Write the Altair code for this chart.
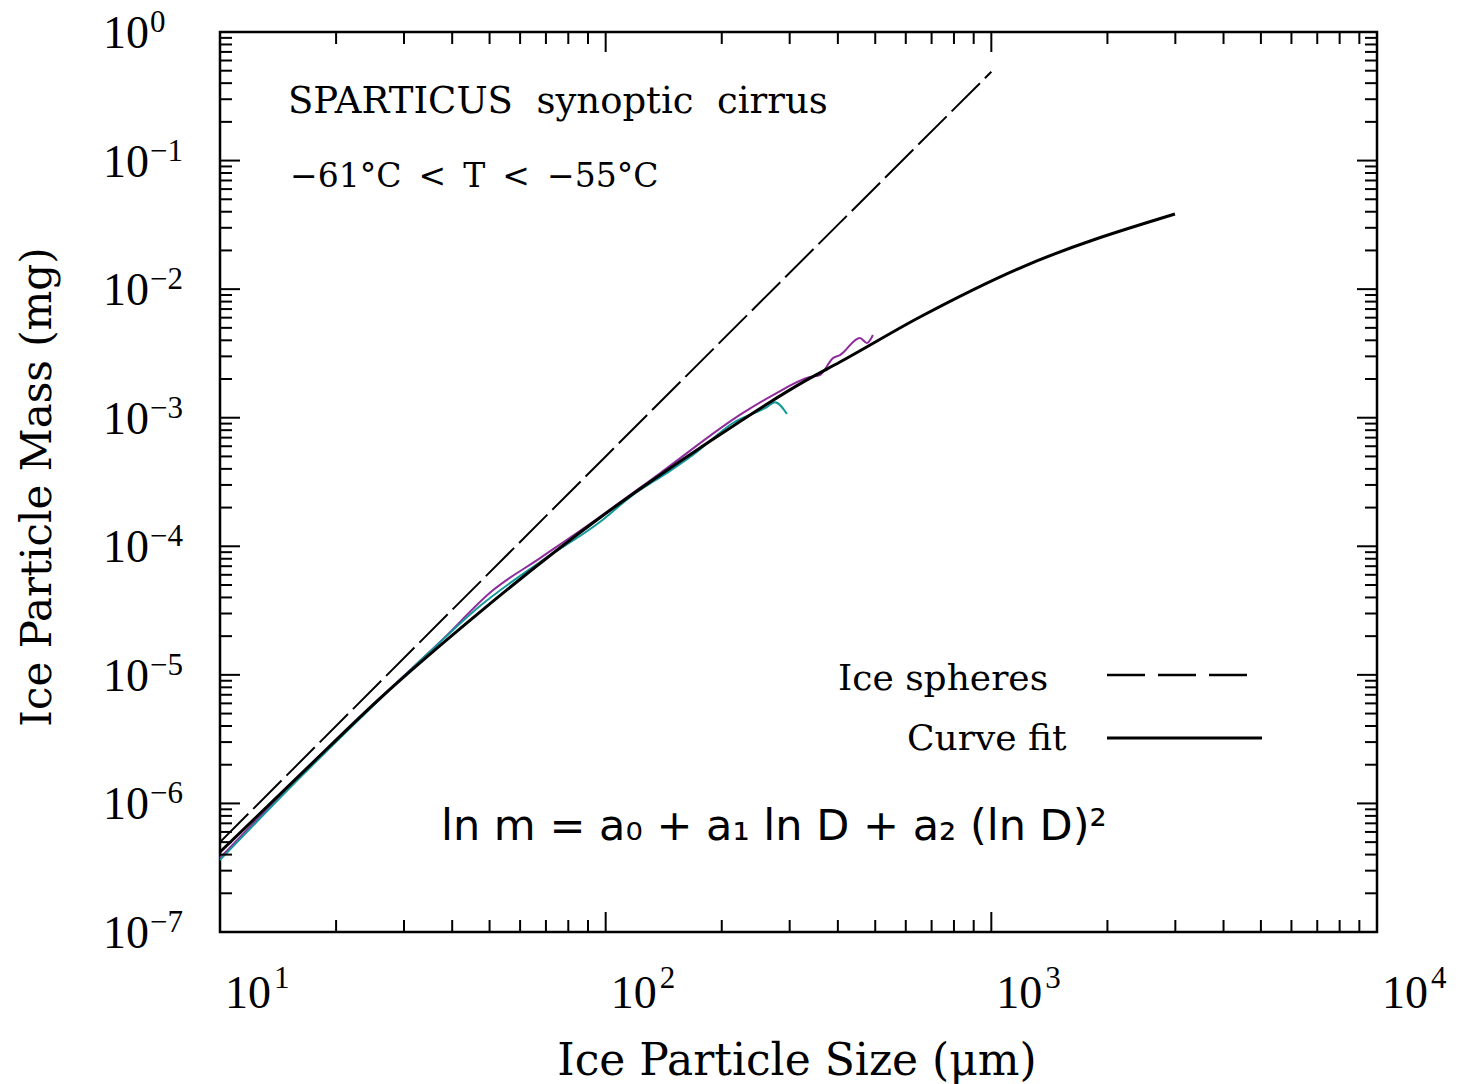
import altair as alt
import pandas as pd

# ---- data ----
fit_D = [10.0, 16.1, 25.7, 47.2, 94.8, 175.6, 332.6, 405.1, 653.0, 1186.0, 2993.0]
fit_m = [4.19e-7, 1.66e-6, 6.37e-6, 3.08e-5, 1.60e-4, 5.81e-4, 1.97e-3, 2.71e-3, 6.07e-3, 1.46e-2, 3.84e-2]

sphere_D = [10.0, 100.0, 1000.0]
sphere_m = [5.0e-7, 5.0e-4, 0.49]

teal_D = [10.0, 16.1, 25.7, 35.0, 47.2, 67.6, 96.6, 117.7, 144.2, 168.4, 213.8, 261.9, 274.8, 295.1]
teal_m = [3.63e-7, 1.58e-6, 6.26e-6, 1.51e-5, 3.43e-5, 7.55e-5, 1.545e-4, 2.51e-4, 3.72e-4,
          5.13e-4, 9.10e-4, 1.21e-3, 1.32e-3, 1.07e-3]

purple_D = [10.0, 16.1, 25.7, 37.2, 51.0, 67.6, 94.9, 138.3, 227.0, 271.5, 338.6, 359.4, 388.5,
            405.1, 456.3, 475.9, 493.2]
purple_m = [3.77e-7, 1.63e-6, 6.40e-6, 1.80e-5, 4.55e-5, 8.10e-5, 1.63e-4, 3.70e-4, 1.09e-3,
            1.50e-3, 2.07e-3, 2.15e-3, 2.91e-3, 3.07e-3, 4.17e-3, 3.81e-3, 4.40e-3]

x_major = [10, 100, 1000, 10000]
x_exp = ["1", "2", "3", "4"]
x_minor = [k * 10 ** e for e in range(1, 4) for k in range(2, 10)]
y_major = [1e-7, 1e-6, 1e-5, 1e-4, 1e-3, 1e-2, 1e-1, 1.0]
y_exp = ["\u22127", "\u22126", "\u22125", "\u22124", "\u22123", "\u22122", "\u22121", "0"]
y_minor = [k * 10.0 ** e for e in range(-7, 0) for k in range(2, 10)]

NB = "\u00a0"
GAP = NB + "\u2009"
title_text = ["SPARTICUS" + NB * 2 + "synoptic" + NB * 2 + "cirrus"]
temp_text = ["\u221261\u00b0C" + GAP + "<" + GAP + "T" + GAP + "<" + GAP + "\u221255\u00b0C"]
legend_labels = ["Ice" + NB + "spheres", "Curve" + NB + "fit"]
equation_text = ["ln m = a\u2080 + a\u2081 ln D + a\u2082 (ln D)\u00b2"]
x_title = ["Ice Particle Size (\u03bcm)"]
y_title = ["Ice Particle Mass (mg)"]

# ---- layout ----
W, H = 1157, 900
xs = alt.Scale(type="log", domain=[10, 10000], nice=False)
ys = alt.Scale(type="log", domain=[1e-7, 1], nice=False)
SERIF = "DejaVu Serif"
NUM = "Liberation Serif"


def line_layer(D, m, color, width, dash=None):
    df = pd.DataFrame({"D": D, "m": m})
    kw = dict(color=color, strokeWidth=width, interpolate="monotone")
    if dash:
        kw["strokeDash"] = dash
    return alt.Chart(df).mark_line(**kw).encode(
        x=alt.X("D:Q", scale=xs, axis=None),
        y=alt.Y("m:Q", scale=ys, axis=None),
    )


def x_ticks(vals, length):
    base = alt.Chart(pd.DataFrame({"v": vals}))
    enc = dict(x=alt.X("v:Q", scale=xs, axis=None))
    bottom = base.mark_rule(color="black", strokeWidth=2).encode(
        y=alt.value(H), y2=alt.value(H - length), **enc)
    top = base.mark_rule(color="black", strokeWidth=2).encode(
        y=alt.value(0), y2=alt.value(length), **enc)
    return [bottom, top]


def y_ticks(vals, length):
    base = alt.Chart(pd.DataFrame({"v": vals}))
    enc = dict(y=alt.Y("v:Q", scale=ys, axis=None))
    left = base.mark_rule(color="black", strokeWidth=2).encode(
        x=alt.value(0), x2=alt.value(length), **enc)
    right = base.mark_rule(color="black", strokeWidth=2).encode(
        x=alt.value(W), x2=alt.value(W - length), **enc)
    return [left, right]


def text_layer(txt, x, y, size, font=SERIF, align="left", baseline="alphabetic", angle=0):
    kw = dict(font=font, fontSize=size, align=align, baseline=baseline, color="black")
    if angle:
        kw["angle"] = angle
    return alt.Chart(pd.DataFrame({"t": txt})).mark_text(**kw).encode(
        x=alt.value(x), y=alt.value(y), text="t:N")


layers = []
layers.append(line_layer(purple_D, purple_m, "#8e2c9c", 2))
layers.append(line_layer(teal_D, teal_m, "#12999a", 2))
layers.append(line_layer(fit_D, fit_m, "black", 3))
layers.append(line_layer(sphere_D, sphere_m, "black", 2, dash=[40, 7]))

layers += x_ticks(x_major, 20) + x_ticks(x_minor, 12)
layers += y_ticks(y_major, 20) + y_ticks(y_minor, 12)

# axis labels
xl = alt.Chart(pd.DataFrame({"v": x_major, "base": ["10"] * 4, "exp": x_exp}))
layers.append(xl.mark_text(font=NUM, fontSize=46, align="left", baseline="alphabetic", dx=5).encode(
    x=alt.X("v:Q", scale=xs, axis=None), y=alt.value(H + 76), text="base:N"))
layers.append(xl.mark_text(font=NUM, fontSize=31, align="left", baseline="alphabetic", dx=54).encode(
    x=alt.X("v:Q", scale=xs, axis=None), y=alt.value(H + 56), text="exp:N"))

yl = alt.Chart(pd.DataFrame({"v": y_major, "base": ["10"] * 8, "exp": y_exp}))
layers.append(yl.mark_text(font=NUM, fontSize=46, align="left", baseline="alphabetic", dy=16).encode(
    y=alt.Y("v:Q", scale=ys, axis=None), x=alt.value(-117), text="base:N"))
layers.append(yl.mark_text(font=NUM, fontSize=31, align="left", baseline="alphabetic", dy=0).encode(
    y=alt.Y("v:Q", scale=ys, axis=None), x=alt.value(-70), text="exp:N"))

# titles and annotations
layers.append(text_layer(x_title, 577, H + 143, 44, align="center"))
layers.append(text_layer(y_title, -182, 455, 42, align="center", baseline="middle", angle=270))
layers.append(text_layer(title_text, 68, 81, 37))
layers.append(text_layer(temp_text, 70, 155, 33))
layers.append(text_layer([legend_labels[0]], 618, 658, 36))
layers.append(text_layer([legend_labels[1]], 687, 718, 36))
layers.append(text_layer(equation_text, 221, 808, 43, font="DejaVu Sans"))

# legend samples
one = alt.Chart(pd.DataFrame({"k": [0]}))
layers.append(one.mark_rule(color="black", strokeWidth=2.5, strokeDash=[38, 13]).encode(
    x=alt.value(887), x2=alt.value(1030), y=alt.value(643)))
layers.append(one.mark_rule(color="black", strokeWidth=3).encode(
    x=alt.value(887), x2=alt.value(1042), y=alt.value(706)))

chart = alt.layer(*layers).properties(
    width=W, height=H,
    padding={"left": 220, "top": 32, "right": 90, "bottom": 152},
    autosize=alt.AutoSizeParams(type="none"),
    background="white",
).configure_view(stroke="black", strokeWidth=2.5)

chart.save("out.html", embed_options={"renderer": "svg", "actions": False})
